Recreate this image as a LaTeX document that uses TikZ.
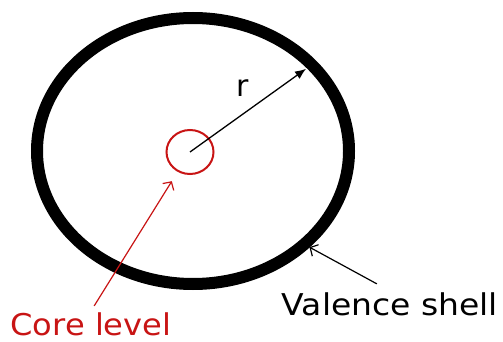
\documentclass[tikz,border=0pt]{standalone}
\usepackage{fontspec}
\setmainfont{DejaVu Sans}
\usepackage{tikz}
\usetikzlibrary{arrows.meta,shapes.geometric}
\definecolor{corered}{RGB}{200,20,20}

\begin{document}
\begin{tikzpicture}[
  x=1pt,y=-1pt,
  font=\fontsize{30}{34}\selectfont,
  shellring/.style={draw,ellipse,line width=12pt,minimum width=312pt,minimum height=266pt,inner sep=0pt,outer sep=0pt},
  corering/.style={draw=corered,ellipse,line width=2pt,minimum width=47pt,minimum height=44pt,inner sep=0pt,outer sep=0pt},
  label/.style={inner sep=1pt,text depth=0pt,anchor=base},
  radius/.style={-{Latex[length=11pt,width=9pt]},line width=1.3pt},
  pointer/.style={-{Straight Barb[length=6pt,width=13pt]},line width=1.2pt}
]
\useasboundingbox (0,0) rectangle (503,342);

\node[label] (rlbl) at (243,97) {r};
\node[label,text=corered,xscale=1.07] (corelbl) at (91,335) {Core level};
\node[label,xscale=1.1] (valencelbl) at (390,315) {Valence shell};

\node[shellring] (shell) at (193,151) {};
\node[corering] (core) at (190,152) {};

\draw[radius,shorten >=7pt] (core.center) -- (shell.36);
\draw[pointer,draw=corered,shorten <=6pt,shorten >=12pt] (corelbl.north) -- (core);
\draw[pointer,shorten <=15pt,shorten >=6pt] (valencelbl.north) -- (shell.-40);
\end{tikzpicture}
\end{document}
